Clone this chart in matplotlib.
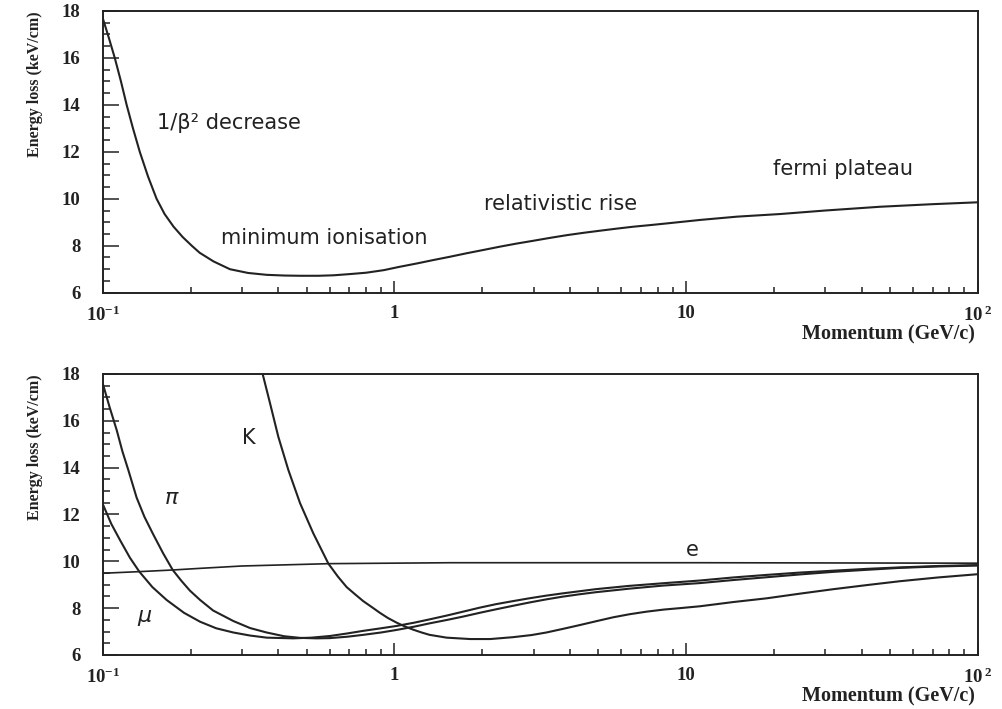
import matplotlib
matplotlib.use("Agg")
import matplotlib.pyplot as plt
from matplotlib.ticker import FixedLocator, FixedFormatter, LogLocator, MultipleLocator

# top panel: pion energy loss
p_top = [0.100, 0.105, 0.110, 0.1155, 0.1208, 0.127, 0.134, 0.143, 0.153, 0.163,
         0.175, 0.188, 0.202, 0.215, 0.24, 0.273, 0.315, 0.365, 0.420, 0.475,
         0.550, 0.618, 0.70, 0.80, 0.92, 1.04, 1.20, 1.36, 1.55, 1.77, 2.02,
         2.30, 2.62, 2.99, 3.40, 3.90, 4.45, 5.07, 5.80, 6.59, 7.55, 8.58,
         11.2, 15.0, 21.0, 30.0, 46.2, 70.0, 100.0]
dedx_top = [17.70, 16.85, 16.00, 15.00, 14.00, 13.00, 12.00, 10.95, 10.00, 9.35,
            8.81, 8.37, 8.00, 7.70, 7.33, 7.00, 6.84, 6.76, 6.73, 6.72,
            6.72, 6.74, 6.79, 6.85, 6.96, 7.10, 7.25, 7.39, 7.53, 7.68, 7.82,
            7.96, 8.09, 8.21, 8.33, 8.45, 8.55, 8.64, 8.73, 8.81, 8.88, 8.95,
            9.10, 9.24, 9.35, 9.50, 9.66, 9.77, 9.85]

# bottom panel: mu, pi, K, e
p_mu = [0.100, 0.107, 0.1146, 0.124, 0.1335, 0.148, 0.1656, 0.19, 0.2157,
        0.245, 0.2804, 0.32, 0.3648, 0.450, 0.520, 0.601, 0.690, 0.782, 0.90,
        1.018, 1.17, 1.32, 1.52, 1.72, 1.96, 2.23, 2.55, 2.90, 3.30, 3.77,
        4.30, 4.90, 6.37, 8.27, 11.16, 14.5, 18.9, 24.6, 32.0, 42.0, 54.1,
        73.0, 100.0]
dedx_mu = [12.45, 11.60, 10.91, 10.15, 9.56, 8.90, 8.35, 7.80, 7.42,
           7.14, 6.96, 6.83, 6.74, 6.71, 6.74, 6.81, 6.92, 7.03, 7.14,
           7.24, 7.38, 7.52, 7.69, 7.85, 8.02, 8.17, 8.30, 8.42, 8.53, 8.63,
           8.72, 8.81, 8.95, 9.06, 9.18, 9.31, 9.42, 9.52, 9.60, 9.68, 9.74,
           9.80, 9.84]

p_pi = [0.100, 0.1055, 0.1117, 0.1168, 0.1224, 0.1307, 0.139, 0.149, 0.161,
        0.1738, 0.186, 0.199, 0.2157, 0.239, 0.2804, 0.320, 0.3648, 0.4188,
        0.475, 0.5416, 0.601, 0.690, 0.782, 0.90, 1.018, 1.17, 1.32, 1.52,
        1.72, 1.96, 2.23, 2.55, 2.90, 3.30, 3.77, 4.30, 4.90, 6.37, 8.27,
        11.16, 14.5, 18.9, 24.6, 32.0, 42.0, 54.1, 73.0, 100.0]
dedx_pi = [17.60, 16.60, 15.60, 14.70, 13.90, 12.72, 11.90, 11.15, 10.35,
           9.63, 9.17, 8.75, 8.35, 7.90, 7.45, 7.15, 6.96, 6.80,
           6.73, 6.71, 6.72, 6.78, 6.86, 6.96, 7.07, 7.21, 7.35, 7.50,
           7.64, 7.80, 7.95, 8.10, 8.24, 8.37, 8.49, 8.59, 8.68, 8.83, 8.96,
           9.07, 9.20, 9.32, 9.44, 9.55, 9.64, 9.72, 9.78, 9.82]

p_k = [0.3535, 0.3747, 0.400, 0.433, 0.475, 0.527, 0.594, 0.640, 0.686, 0.735,
       0.782, 0.840, 0.892, 0.95, 1.018, 1.09, 1.161, 1.24, 1.32, 1.51, 1.82,
       2.13, 2.55, 2.95, 3.32, 3.80, 4.33, 4.95, 5.63, 6.40, 7.32, 8.40, 9.53,
       11.16, 14.5, 18.9, 24.6, 32.0, 42.0, 54.1, 73.0, 100.0]
dedx_k = [18.0, 16.75, 15.32, 13.90, 12.48, 11.20, 9.90, 9.35, 8.90, 8.58,
          8.30, 8.03, 7.80, 7.58, 7.38, 7.21, 7.08, 6.96, 6.86, 6.74, 6.68,
          6.68, 6.76, 6.85, 6.96, 7.12, 7.28, 7.45, 7.61, 7.74, 7.85, 7.94, 8.00,
          8.08, 8.26, 8.42, 8.62, 8.81, 8.99, 9.15, 9.31, 9.45]

p_e = [0.100, 0.134, 0.174, 0.216, 0.300, 0.600, 1.55, 11.2, 100.0]
dedx_e = [9.49, 9.56, 9.63, 9.70, 9.80, 9.90, 9.94, 9.94, 9.92]

xticks = [0.1, 1, 10, 100]
xticklabels = [r"$\mathbf{10^{-1}}$", "1", "10", r"$\mathbf{10^{\,2}}$"]

plt.rcParams["mathtext.fontset"] = "custom"
plt.rcParams["mathtext.bf"] = "Liberation Serif:bold"
plt.rcParams["mathtext.rm"] = "Liberation Serif"
plt.rcParams["mathtext.it"] = "DejaVu Sans:italic"
plt.rcParams["lines.solid_joinstyle"] = "round"

serif = {"family": "Liberation Serif", "weight": "bold"}
sans = "DejaVu Sans"
col = "#222222"
fs = 15

fig = plt.figure(figsize=(10.03, 7.09), dpi=100)
ax1 = fig.add_axes([0.1024, 0.5872, 0.8724, 0.3973])
ax2 = fig.add_axes([0.1024, 0.0762, 0.8724, 0.3963])


def style(ax):
    ax.set_xscale("log")
    ax.set_xlim(0.1, 100)
    ax.set_ylim(6, 18)
    for s in ax.spines.values():
        s.set_linewidth(1.4)
        s.set_color(col)
    ax.xaxis.set_major_locator(FixedLocator(xticks))
    ax.xaxis.set_major_formatter(FixedFormatter(xticklabels))
    ax.xaxis.set_minor_locator(LogLocator(base=10, subs=range(2, 10)))
    ax.xaxis.set_minor_formatter(FixedFormatter([]))
    ax.yaxis.set_major_locator(MultipleLocator(2))
    ax.yaxis.set_minor_locator(MultipleLocator(0.5))
    ax.tick_params(axis="x", which="major", direction="in", length=9, width=1.1,
                   pad=9, top=False, color=col)
    ax.tick_params(axis="x", which="minor", direction="in", length=4.5, width=1.1,
                   top=False, color=col)
    ax.tick_params(axis="y", which="major", direction="in", length=11.5, width=1.1,
                   pad=16, right=False, color=col)
    ax.tick_params(axis="y", which="minor", direction="in", length=5, width=1.1,
                   right=False, color=col)
    for lab in ax.get_xticklabels() + ax.get_yticklabels():
        lab.set_fontfamily("Liberation Serif")
        lab.set_fontweight("bold")
        lab.set_fontsize(13.5)
        lab.set_color(col)
    ax.text(-0.077, 1.0, "Energy loss (keV/cm)", transform=ax.transAxes,
            rotation=90, ha="center", va="top", fontsize=11.5, color=col, **serif)
    ax.text(0.997, -0.113, "Momentum (GeV/c)", transform=ax.transAxes,
            ha="right", va="top", fontsize=14.5, color=col, **serif)


style(ax1)
ax1.plot(p_top, dedx_top, color=col, lw=1.5)
ax1.text(0.153, 13.23, "1/β² decrease", fontsize=fs, family=sans,
         va="center", color=col)
ax1.text(0.254, 8.33, "minimum ionisation", fontsize=fs, family=sans,
         va="center", color=col)
ax1.text(2.03, 9.78, "relativistic rise", fontsize=fs, family=sans,
         va="center", color=col)
ax1.text(19.9, 11.27, "fermi plateau", fontsize=fs, family=sans,
         va="center", color=col)

style(ax2)
ax2.plot(p_mu, dedx_mu, color=col, lw=1.5)
ax2.plot(p_pi, dedx_pi, color=col, lw=1.5)
ax2.plot(p_k, dedx_k, color=col, lw=1.5)
ax2.plot(p_e, dedx_e, color=col, lw=1.2)
ax2.text(0.317, 15.27, "K", fontsize=fs, family=sans, ha="center", va="center", color=col)
ax2.text(0.1728, 12.70, r"$\pi$", fontsize=16, ha="center", va="center", color=col)
ax2.text(0.1396, 7.58, r"$\mu$", fontsize=16, ha="center", va="center", color=col)
ax2.text(10.5, 10.49, "e", fontsize=fs, family=sans, ha="center", va="center", color=col)

fig.savefig("out.png", dpi=100)
